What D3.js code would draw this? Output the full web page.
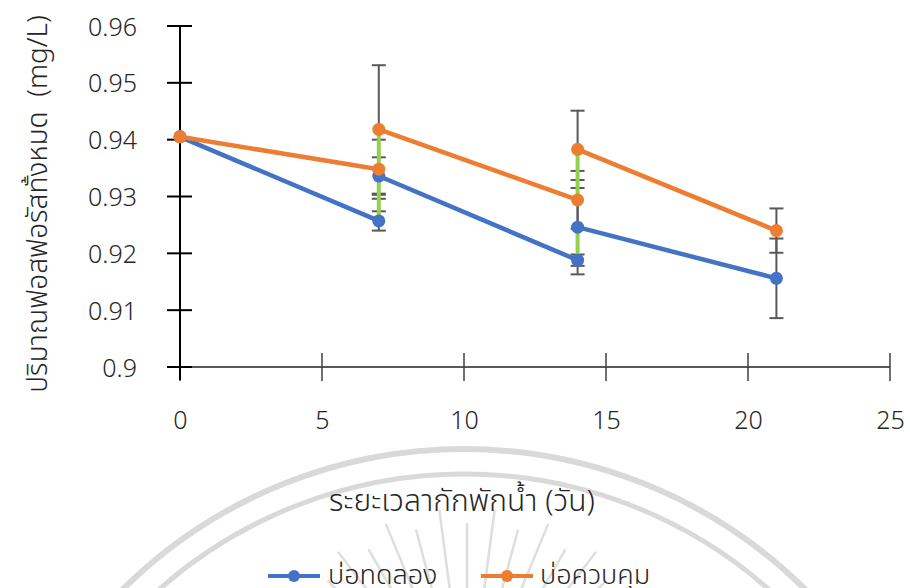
<!DOCTYPE html>
<html><head><meta charset="utf-8">
<script src="https://cdn.jsdelivr.net/npm/d3@7"></script>
<style>
html,body{margin:0;padding:0;background:#fff;}
svg text{font-family:"Noto Sans","Noto Sans Thai","Leelawadee UI","DejaVu Sans",sans-serif;fill:#262626;white-space:pre;}
</style></head>
<body><svg id="c" width="910" height="588"></svg>
<script>
// ---- data ----
const xTickValues = [0, 5, 10, 15, 20, 25];
const yTickValues = [0.90, 0.91, 0.92, 0.93, 0.94, 0.95, 0.96];
const days = [0, 7, 7, 14, 14, 21];
const trialValues = [0.9405, 0.9257, 0.9336, 0.9188, 0.9246, 0.9156];
const trialErrors = [0, 0.0017, 0.0033, 0.0010, 0.0083, 0.0070];
const controlValues = [0.9405, 0.9348, 0.9418, 0.9294, 0.9383, 0.9240];
const controlErrors = [0, 0.0052, 0.0113, 0.0051, 0.0068, 0.0039];
const seriesNames = ["บ่อทดลอง", "บ่อควบคุม"];
const xTitle = "ระยะเวลากักพักน้ำ (วัน)";
const yTitle = "ปริมาณฟอสฟอรัสทั้งหมด  (mg/L)";

const svg = d3.select("#c");
const x = d3.scaleLinear().domain([0, 25]).range([180, 890]);
const y = d3.scaleLinear().domain([0.90, 0.96]).range([367, 26]);

// ---- watermark ----
const wm = svg.append("g").attr("fill", "none").attr("stroke", "#d9d9d9");
const wc = [464, 934];
[[485, 6], [460, 5]].forEach(([r, w]) => {
  wm.append("circle").attr("cx", wc[0]).attr("cy", wc[1]).attr("r", r).attr("stroke-width", w);
});
const rc = [467, 720];
for (let i = -8; i <= 8; i++) {
  const a = i * 7.5 * Math.PI / 180;
  const r1 = (i % 2 === 0) ? 197 : 212, r2 = 110;
  wm.append("line")
    .attr("x1", rc[0] + r1 * Math.sin(a)).attr("y1", rc[1] - r1 * Math.cos(a))
    .attr("x2", rc[0] + r2 * Math.sin(a)).attr("y2", rc[1] - r2 * Math.cos(a))
    .attr("stroke-width", 2.5).attr("stroke", "#dedede");
}

// ---- axes ----
const yAxis = svg.append("g").attr("transform", "translate(180,0)")
  .call(d3.axisLeft(y).tickValues(yTickValues).tickSize(0).tickFormat(d => d3.format("")(+d.toFixed(2))));
yAxis.select(".domain").remove();
yAxis.selectAll("text").attr("x", -43).attr("dy", "0.36em").style("font-size", "25px").style("font-weight", "300");
const xAxis = svg.append("g").attr("transform", "translate(0,367)")
  .call(d3.axisBottom(x).tickValues(xTickValues).tickSize(0));
xAxis.select(".domain").remove();
xAxis.selectAll("text").attr("y", 53).attr("dy", "0.36em").style("font-size", "25px").style("font-weight", "300");

// axis lines and cross ticks
svg.append("line").attr("x1", 180).attr("x2", 890).attr("y1", y(0.90)).attr("y2", y(0.90))
  .attr("stroke", "#595959").attr("stroke-width", 2);
svg.selectAll(".xt").data(xTickValues).join("line")
  .attr("x1", d => x(d)).attr("x2", d => x(d)).attr("y1", y(0.90) - 14).attr("y2", y(0.90) + 14)
  .attr("stroke", "#404040").attr("stroke-width", 1.5);
svg.append("line").attr("x1", 180).attr("x2", 180).attr("y1", y(0.96)).attr("y2", y(0.90) + 13)
  .attr("stroke", "#000").attr("stroke-width", 2);
svg.selectAll(".yt").data(yTickValues).join("line")
  .attr("x1", 167).attr("x2", 192).attr("y1", d => y(d)).attr("y2", d => y(d))
  .attr("stroke", "#000").attr("stroke-width", 2);

// ---- error bars ----
function errorBars(vals, errs) {
  const g = svg.append("g").attr("stroke", "#595959").attr("stroke-width", 2);
  vals.forEach((v, i) => {
    const e = errs[i]; if (!e) return;
    const cx = x(days[i]);
    g.append("line").attr("x1", cx).attr("x2", cx).attr("y1", y(v + e)).attr("y2", y(v - e));
    [v + e, v - e].forEach(t => g.append("line").attr("x1", cx - 7).attr("x2", cx + 7).attr("y1", y(t)).attr("y2", y(t)));
  });
}
errorBars(trialValues, trialErrors);
errorBars(controlValues, controlErrors);

// ---- lines ----
const colors = ["#4472C4", "#ED7D31"];
const green = "#92D050";
function drawSeries(vals, color) {
  const g = svg.append("g");
  for (let i = 0; i < vals.length - 1; i++) {
    const vertical = days[i] === days[i + 1];
    g.append("line")
      .attr("x1", x(days[i])).attr("y1", y(vals[i]))
      .attr("x2", x(days[i + 1])).attr("y2", y(vals[i + 1]))
      .attr("stroke", vertical ? green : color)
      .attr("stroke-width", vertical ? 4 : 4.5).attr("stroke-linecap", "round");
  }
  return g;
}
drawSeries(trialValues, colors[0]);
drawSeries(controlValues, colors[1]);
[[trialValues, colors[0]], [controlValues, colors[1]]].forEach(([vals, c]) => {
  svg.append("g").selectAll("circle").data(vals).join("circle")
    .attr("cx", (d, i) => x(days[i])).attr("cy", d => y(d)).attr("r", 6.5).attr("fill", c);
});

// ---- titles ----
svg.append("text").attr("x", 462).attr("y", 500).attr("text-anchor", "middle").attr("dy", "0.36em")
  .style("font-size", "30px").style("font-weight", "300").text(xTitle);
svg.append("text").attr("transform", "translate(47,204) rotate(-90)").attr("text-anchor", "middle")
  .style("font-size", "28px").style("font-weight", "300").text(yTitle);

// ---- legend ----
const legendX = [[268, 328], [481, 540]];
seriesNames.forEach((n, i) => {
  const [lx, tx] = legendX[i];
  svg.append("line").attr("x1", lx).attr("x2", lx + 52).attr("y1", 576).attr("y2", 576)
    .attr("stroke", colors[i]).attr("stroke-width", 4);
  svg.append("circle").attr("cx", lx + 26).attr("cy", 576).attr("r", 6).attr("fill", colors[i]);
  svg.append("text").attr("x", tx).attr("y", 574).attr("dy", "0.36em")
    .style("font-size", "27px").style("font-weight", "300").text(n);
});
</script></body></html>
